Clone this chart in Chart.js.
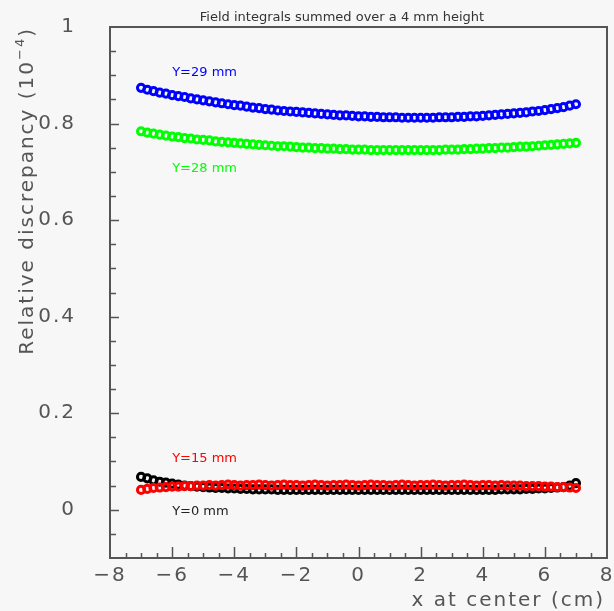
<!DOCTYPE html>
<html>
<head>
<meta charset="utf-8">
<script src="https://cdn.jsdelivr.net/npm/chart.js@4.4.1/dist/chart.umd.min.js"></script>
<style>
html, body { margin: 0; padding: 0; background: #f7f7f7; }
#wrap { width: 614px; height: 611px; }
</style>
</head>
<body>
<div id="wrap"><canvas id="c" width="614" height="611"></canvas></div>
<script>
// x position of each measurement (cm)
const xPos = [
  -7.0, -6.8, -6.6, -6.4, -6.2, -6.0, -5.8, -5.6, -5.4, -5.2,
  -5.0, -4.8, -4.6, -4.4, -4.2, -4.0, -3.8, -3.6, -3.4, -3.2,
  -3.0, -2.8, -2.6, -2.4, -2.2, -2.0, -1.8, -1.6, -1.4, -1.2,
  -1.0, -0.8, -0.6, -0.4, -0.2, 0.0, 0.2, 0.4, 0.6, 0.8,
  1.0, 1.2, 1.4, 1.6, 1.8, 2.0, 2.2, 2.4, 2.6, 2.8,
  3.0, 3.2, 3.4, 3.6, 3.8, 4.0, 4.2, 4.4, 4.6, 4.8,
  5.0, 5.2, 5.4, 5.6, 5.8, 6.0, 6.2, 6.4, 6.6, 6.8, 7.0
];

// relative discrepancy (1e-4) per series
const y29 = [
  0.874, 0.870, 0.867, 0.864, 0.862, 0.859, 0.857, 0.855, 0.852, 0.850,
  0.848, 0.846, 0.844, 0.842, 0.840, 0.838, 0.837, 0.835, 0.833, 0.832,
  0.830, 0.829, 0.827, 0.826, 0.825, 0.824, 0.823, 0.822, 0.821, 0.820,
  0.819, 0.818, 0.817, 0.817, 0.816, 0.815, 0.815, 0.814, 0.814, 0.813,
  0.813, 0.813, 0.812, 0.812, 0.812, 0.812, 0.812, 0.812, 0.813, 0.813,
  0.813, 0.814, 0.814, 0.815, 0.815, 0.816, 0.817, 0.818, 0.819, 0.820,
  0.821, 0.822, 0.823, 0.825, 0.826, 0.828, 0.830, 0.832, 0.834, 0.837, 0.840
];
const y28 = [
  0.784, 0.781, 0.779, 0.777, 0.775, 0.773, 0.772, 0.770, 0.769, 0.767,
  0.766, 0.765, 0.763, 0.762, 0.761, 0.760, 0.759, 0.758, 0.757, 0.756,
  0.755, 0.754, 0.753, 0.753, 0.752, 0.751, 0.750, 0.750, 0.749, 0.749,
  0.748, 0.748, 0.747, 0.747, 0.746, 0.746, 0.746, 0.745, 0.745, 0.745,
  0.745, 0.745, 0.745, 0.745, 0.745, 0.745, 0.745, 0.745, 0.745, 0.746,
  0.746, 0.746, 0.747, 0.747, 0.748, 0.748, 0.749, 0.749, 0.750, 0.750,
  0.751, 0.752, 0.752, 0.753, 0.754, 0.755, 0.756, 0.757, 0.758, 0.759, 0.760
];
const y15 = [
  0.041, 0.043, 0.045, 0.046, 0.047, 0.048, 0.048, 0.049, 0.049, 0.050,
  0.050, 0.051, 0.050, 0.051, 0.052, 0.051, 0.050, 0.051, 0.051, 0.052,
  0.051, 0.050, 0.051, 0.052, 0.051, 0.051, 0.050, 0.051, 0.052, 0.051,
  0.050, 0.051, 0.051, 0.052, 0.051, 0.050, 0.051, 0.052, 0.051, 0.051,
  0.050, 0.051, 0.052, 0.051, 0.050, 0.051, 0.051, 0.052, 0.051, 0.050,
  0.051, 0.051, 0.052, 0.051, 0.050, 0.051, 0.051, 0.050, 0.051, 0.050,
  0.050, 0.050, 0.049, 0.049, 0.049, 0.048, 0.048, 0.047, 0.047, 0.046, 0.045
];
const y0 = [
  0.068, 0.065, 0.061, 0.058, 0.056, 0.054, 0.052, 0.050, 0.049, 0.048,
  0.047, 0.046, 0.045, 0.045, 0.044, 0.044, 0.043, 0.043, 0.042, 0.042,
  0.042, 0.042, 0.041, 0.041, 0.041, 0.041, 0.041, 0.041, 0.041, 0.041,
  0.041, 0.041, 0.041, 0.041, 0.041, 0.041, 0.041, 0.041, 0.041, 0.041,
  0.041, 0.041, 0.041, 0.041, 0.041, 0.041, 0.041, 0.041, 0.041, 0.041,
  0.041, 0.041, 0.041, 0.041, 0.041, 0.041, 0.041, 0.041, 0.042, 0.042,
  0.042, 0.042, 0.043, 0.043, 0.044, 0.044, 0.045, 0.046, 0.047, 0.050, 0.055
];

const seriesNames = ['Y=15 mm', 'Y=0 mm', 'Y=29 mm', 'Y=28 mm'];
const seriesColors = ['#ff0000', '#000000', '#0000ff', '#00ff00'];
const seriesValues = [y15, y0, y29, y28];
// where each series name is written (data coordinates)
const nameX = [-6.0, -6.0, -6.0, -6.0];
const nameY = [0.098, -0.011, 0.898, 0.699];

const xTickValues = [-8, -6, -4, -2, 0, 2, 4, 6, 8];
const yTickValues = [0, 0.2, 0.4, 0.6, 0.8, 1];

const FONT = '"DejaVu Sans", "Liberation Sans", sans-serif';
const AXIS_COLOR = '#555';

const fmt = v => {
  const s = String(Math.round(v * 10) / 10);
  return s.replace('-', '\u2212');
};

// keep the plot frame where the reference has it
const noPad = s => {
  s.paddingTop = 0;
  s.paddingBottom = 0;
  s.paddingLeft = 0;
  s.paddingRight = 0;
};

const decor = {
  id: 'decor',
  beforeDraw(chart) {
    const ctx = chart.ctx;
    ctx.save();
    ctx.fillStyle = '#f7f7f7';
    ctx.fillRect(0, 0, chart.width, chart.height);
    ctx.restore();
    ctx.letterSpacing = '2px';
  },
  beforeDatasetsDraw(chart) {
    chart.ctx.letterSpacing = '0px';
  },
  afterDatasetsDraw(chart) {
    const ctx = chart.ctx;
    const a = chart.chartArea;
    const xs = chart.scales.x, ys = chart.scales.y;
    ctx.save();
    ctx.strokeStyle = AXIS_COLOR;
    ctx.lineWidth = 1.5;
    ctx.beginPath();
    // inward ticks on x
    for (let i = -15; i <= 15; i++) {
      const v = i / 2;
      const px = Math.round(xs.getPixelForValue(v)) + 0.5;
      const len = (i % 4 === 0) ? 11 : 5;
      ctx.moveTo(px, a.bottom);
      ctx.lineTo(px, a.bottom - len);
    }
    // inward ticks on y
    for (let i = -1; i <= 19; i++) {
      const v = i / 20;
      const py = Math.round(ys.getPixelForValue(v)) + 0.5;
      const len = (i % 4 === 0) ? 9 : 6;
      ctx.moveTo(a.left, py);
      ctx.lineTo(a.left + len, py);
    }
    ctx.stroke();
    ctx.lineWidth = 2;
    ctx.strokeRect(a.left, a.top, a.right - a.left, a.bottom - a.top);

    // series names
    ctx.font = '13px ' + FONT;
    ctx.textAlign = 'left';
    ctx.textBaseline = 'alphabetic';
    seriesNames.forEach((n, i) => {
      ctx.fillStyle = seriesColors[i] === '#000000' ? '#222' : seriesColors[i];
      ctx.fillText(n, xs.getPixelForValue(nameX[i]), ys.getPixelForValue(nameY[i]));
    });
    ctx.restore();
  },
  afterDraw(chart) {
    const ctx = chart.ctx;
    ctx.save();
    // title
    ctx.fillStyle = '#333';
    ctx.font = '13px ' + FONT;
    ctx.textAlign = 'center';
    ctx.textBaseline = 'alphabetic';
    ctx.fillText('Field integrals summed over a 4 mm height', 342, 20.5);

    ctx.letterSpacing = '2px';
    ctx.fillStyle = AXIS_COLOR;
    // x axis title
    ctx.font = '20px ' + FONT;
    ctx.textAlign = 'right';
    ctx.fillText('x at center (cm)', 605, 606);

    // y axis title, rotated, with superscript
    const main = 'Relative discrepancy (10';
    const sup = '\u22124';
    const close = ')';
    ctx.textAlign = 'left';
    ctx.font = '20px ' + FONT;
    const w1 = ctx.measureText(main).width;
    const w3 = ctx.measureText(close).width;
    ctx.font = '13px ' + FONT;
    const w2 = ctx.measureText(sup).width;
    const total = w1 + w2 + w3;
    ctx.translate(33, 27 + total);
    ctx.rotate(-Math.PI / 2);
    ctx.font = '20px ' + FONT;
    ctx.fillText(main, 0, 0);
    ctx.font = '13px ' + FONT;
    ctx.fillText(sup, w1, -9);
    ctx.font = '20px ' + FONT;
    ctx.fillText(close, w1 + w2, 0);
    ctx.restore();
  }
};

const datasets = seriesNames.map((n, i) => ({
  label: n,
  data: xPos.map((x, k) => ({ x: x, y: seriesValues[i][k] })),
  showLine: false,
  pointStyle: 'circle',
  pointRadius: 3.6,
  pointBorderWidth: 3,
  pointBackgroundColor: 'rgba(0,0,0,0)',
  pointBorderColor: seriesColors[i]
}));

new Chart(document.getElementById('c'), {
  type: 'scatter',
  data: { datasets: datasets },
  options: {
    responsive: false,
    devicePixelRatio: 1,
    animation: false,
    events: [],
    layout: { padding: { top: 27, right: 7, left: 0, bottom: 0 } },
    plugins: {
      legend: { display: false },
      tooltip: { enabled: false },
      title: { display: false }
    },
    scales: {
      x: {
        type: 'linear',
        position: 'bottom',
        min: -8,
        max: 8,
        afterBuildTicks: s => { s.ticks = xTickValues.map(v => ({ value: v })); },
        afterFit: s => { s.height = 53; noPad(s); },
        grid: { display: false, drawTicks: false },
        border: { display: false },
        ticks: {
          color: AXIS_COLOR,
          font: { family: FONT, size: 20 },
          padding: 6,
          maxRotation: 0,
          autoSkip: false,
          callback: v => fmt(v)
        }
      },
      y: {
        type: 'linear',
        position: 'left',
        min: -0.1,
        max: 1,
        afterBuildTicks: s => { s.ticks = yTickValues.map(v => ({ value: v })); },
        afterFit: s => { s.width = 110; noPad(s); },
        grid: { display: false, drawTicks: false },
        border: { display: false },
        ticks: {
          color: AXIS_COLOR,
          font: { family: FONT, size: 20 },
          padding: 34,
          autoSkip: false,
          callback: v => fmt(v)
        }
      }
    }
  },
  plugins: [decor]
});
</script>
</body>
</html>
